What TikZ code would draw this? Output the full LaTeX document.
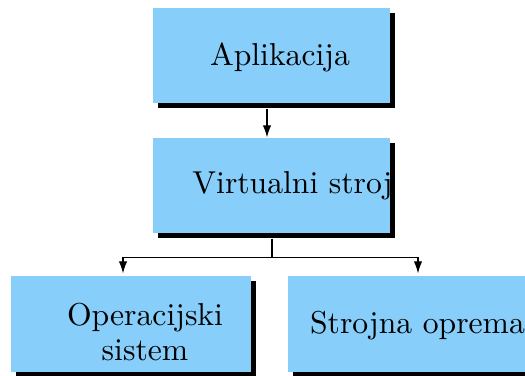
\documentclass[tikz,border=0pt]{standalone}
\usetikzlibrary{shadows,calc,arrows.meta}
\definecolor{boxblue}{RGB}{135,206,250}
\tikzset{
  layerbox/.style={rectangle, fill=boxblue, draw=none, inner sep=0pt,
    general shadow={fill=black, shadow xshift=1.7pt, shadow yshift=-1.7pt}},
  layertext/.style={inner sep=0pt, align=center, font=\fontsize{10.45}{11.8}\selectfont},
  arr/.style={-{Latex[length=4pt,width=2.8pt]}, line width=0.4pt},
  wire/.style={line width=0.4pt}
}
\begin{document}
\begin{tikzpicture}[x=0.33pt,y=-0.33pt]
  \useasboundingbox (0,0) rectangle (525,375);
  % layer boxes
  \node[layerbox, minimum width=237*0.33pt, minimum height=95*0.33pt] (app) at (271.5,55.5) {};
  \node[layerbox, minimum width=237*0.33pt, minimum height=95*0.33pt] (vm) at (271.5,185.5) {};
  \node[layerbox, minimum width=240*0.33pt, minimum height=96*0.33pt] (os) at (131,324) {};
  \node[layerbox, minimum width=239*0.33pt, minimum height=96*0.33pt] (hw) at (407.5,324) {};
  % labels
  \node[layertext] (appt) at (280,57) {Aplikacija};
  \node[layertext] (vmt) at (292.5,186) {Virtualni stroj};
  \node[layertext] (ost) at (145,332) {Operacijski\\sistem};
  \node[layertext] (hwt) at (417.5,326) {Strojna oprema};
  % connectors
  \draw[arr] ($(app.south)+(-4.5,5)$) -- ($(vm.north)+(-4.5,0)$);
  \coordinate (split) at ($(vm.south)+(0.5,24)$);
  \draw[wire] ($(vm.south)+(0.5,5)$) -- (split);
  \draw[arr] (split) -| ($(os.north)+(-8,-2)$);
  \draw[arr] (split) -| ($(hw.north)+(10.5,-2)$);
\end{tikzpicture}
\end{document}
